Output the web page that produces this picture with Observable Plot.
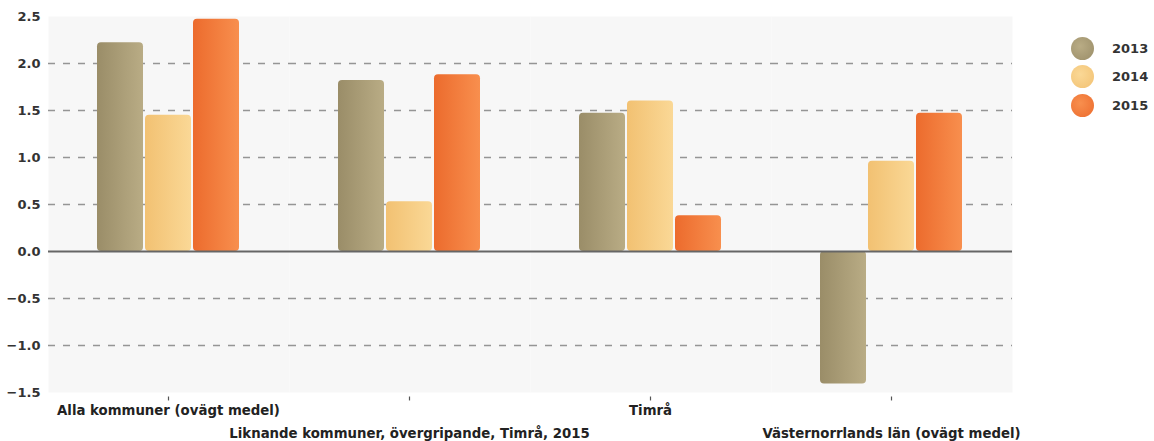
<!DOCTYPE html>
<html>
<head>
<meta charset="utf-8">
<script src="https://cdn.jsdelivr.net/npm/d3@7"></script>
<script src="https://cdn.jsdelivr.net/npm/@observablehq/plot@0.6"></script>
<style>
  html, body { margin: 0; padding: 0; background: #fff; }
  #wrap { position: relative; width: 1154px; height: 441px; }
  #legend { position: absolute; left: 1071px; top: 34px; font: bold 13px "DejaVu Sans", sans-serif; color: #333; }
  .li { display: flex; align-items: center; height: 28.5px; }
  .sw { width: 23px; height: 23px; border-radius: 50%; margin-right: 18px; }
</style>
</head>
<body>
<div id="wrap"><div id="legend"></div></div>
<script>
const categories = [
  "Alla kommuner (ovägt medel)",
  "Liknande kommuner, övergripande, Timrå, 2015",
  "Timrå",
  "Västernorrlands län (ovägt medel)"
];
const years = ["2013", "2014", "2015"];
const values2013 = [2.22, 1.82, 1.47, -1.41];
const values2014 = [1.45, 0.53, 1.60, 0.96];
const values2015 = [2.47, 1.88, 0.38, 1.47];
const yTicks = [-1.5, -1.0, -0.5, 0.0, 0.5, 1.0, 1.5, 2.0, 2.5];
const gridTicks = [-1.0, -0.5, 0.5, 1.0, 1.5, 2.0];
const gradients = {
  "2013": ["#9a8d68", "#b9ac85"],
  "2014": ["#f2c172", "#fad896"],
  "2015": ["#ec6b2d", "#f88f4e"]
};

const series = {"2013": values2013, "2014": values2014, "2015": values2015};
const data = [];
years.forEach(y => categories.forEach((c, i) => data.push({category: c, year: y, value: series[y][i]})));
const labels = categories.map((c, i) => ({category: c, row: i % 2}));

const font = '"DejaVu Sans", sans-serif';

const chart = Plot.plot({
  width: 1154,
  height: 441,
  marginLeft: 48,
  marginRight: 142,
  marginTop: 16,
  marginBottom: 49,
  style: {fontFamily: font, fontSize: "13px", fontWeight: "bold", color: "#333", background: "#fff", overflow: "visible"},
  fx: {domain: categories, padding: 0, label: null, axis: null},
  x: {domain: years, paddingInner: 0.04, paddingOuter: 1.0, axis: null},
  y: {domain: [-1.5, 2.5], label: null},
  marks: [
    Plot.frame({fill: "#f7f7f7", stroke: "none"}),
    Plot.ruleY(gridTicks, {stroke: "#8a8a8a", strokeWidth: 1.4, strokeDasharray: "7,8", strokeOpacity: 0.9}),
    ...years.map(y => Plot.barY(data.filter(d => d.year === y), {
      fx: "category", x: "year", y: "value", fill: `url(#grad${y})`, rx: 4
    })),
    Plot.ruleY([0], {stroke: "#666", strokeWidth: 2}),
    Plot.axisY(yTicks, {tickSize: 0, tickPadding: 8, tickFormat: d3.format(".1f"), label: null, fill: "#333", fontSize: 13, fontWeight: "bold"}),
    Plot.ruleX(labels, {fx: "category", x: () => "2014", y1: -1.548, y2: -1.59, stroke: "#555", strokeWidth: 1.2, clip: false}),
    Plot.text(labels.filter(d => d.row === 0), {fx: "category", x: () => "2014", y: () => -1.5, dy: 18, text: "category", fill: "#222", fontWeight: "bold", fontSize: 13.3, clip: false}),
    Plot.text(labels.filter(d => d.row === 1), {fx: "category", x: () => "2014", y: () => -1.5, dy: 41, text: "category", fill: "#222", fontWeight: "bold", fontSize: 13.3, clip: false})
  ]
});

const svg = d3.select(chart.tagName.toLowerCase() === "svg" ? chart : chart.querySelector("svg"));
const defs = svg.insert("defs", ":first-child");
for (const y of years) {
  const g = defs.append("linearGradient").attr("id", `grad${y}`).attr("x1", "0%").attr("x2", "100%").attr("y1", "0%").attr("y2", "0%");
  g.append("stop").attr("offset", "0%").attr("stop-color", gradients[y][0]);
  g.append("stop").attr("offset", "100%").attr("stop-color", gradients[y][1]);
}
document.getElementById("wrap").prepend(chart);

const legend = d3.select("#legend");
for (const y of years) {
  const li = legend.append("div").attr("class", "li");
  li.append("div").attr("class", "sw").style("background", `radial-gradient(circle at 40% 40%, ${gradients[y][1]}, ${gradients[y][0]})`);
  li.append("span").text(y);
}
</script>
</body>
</html>
